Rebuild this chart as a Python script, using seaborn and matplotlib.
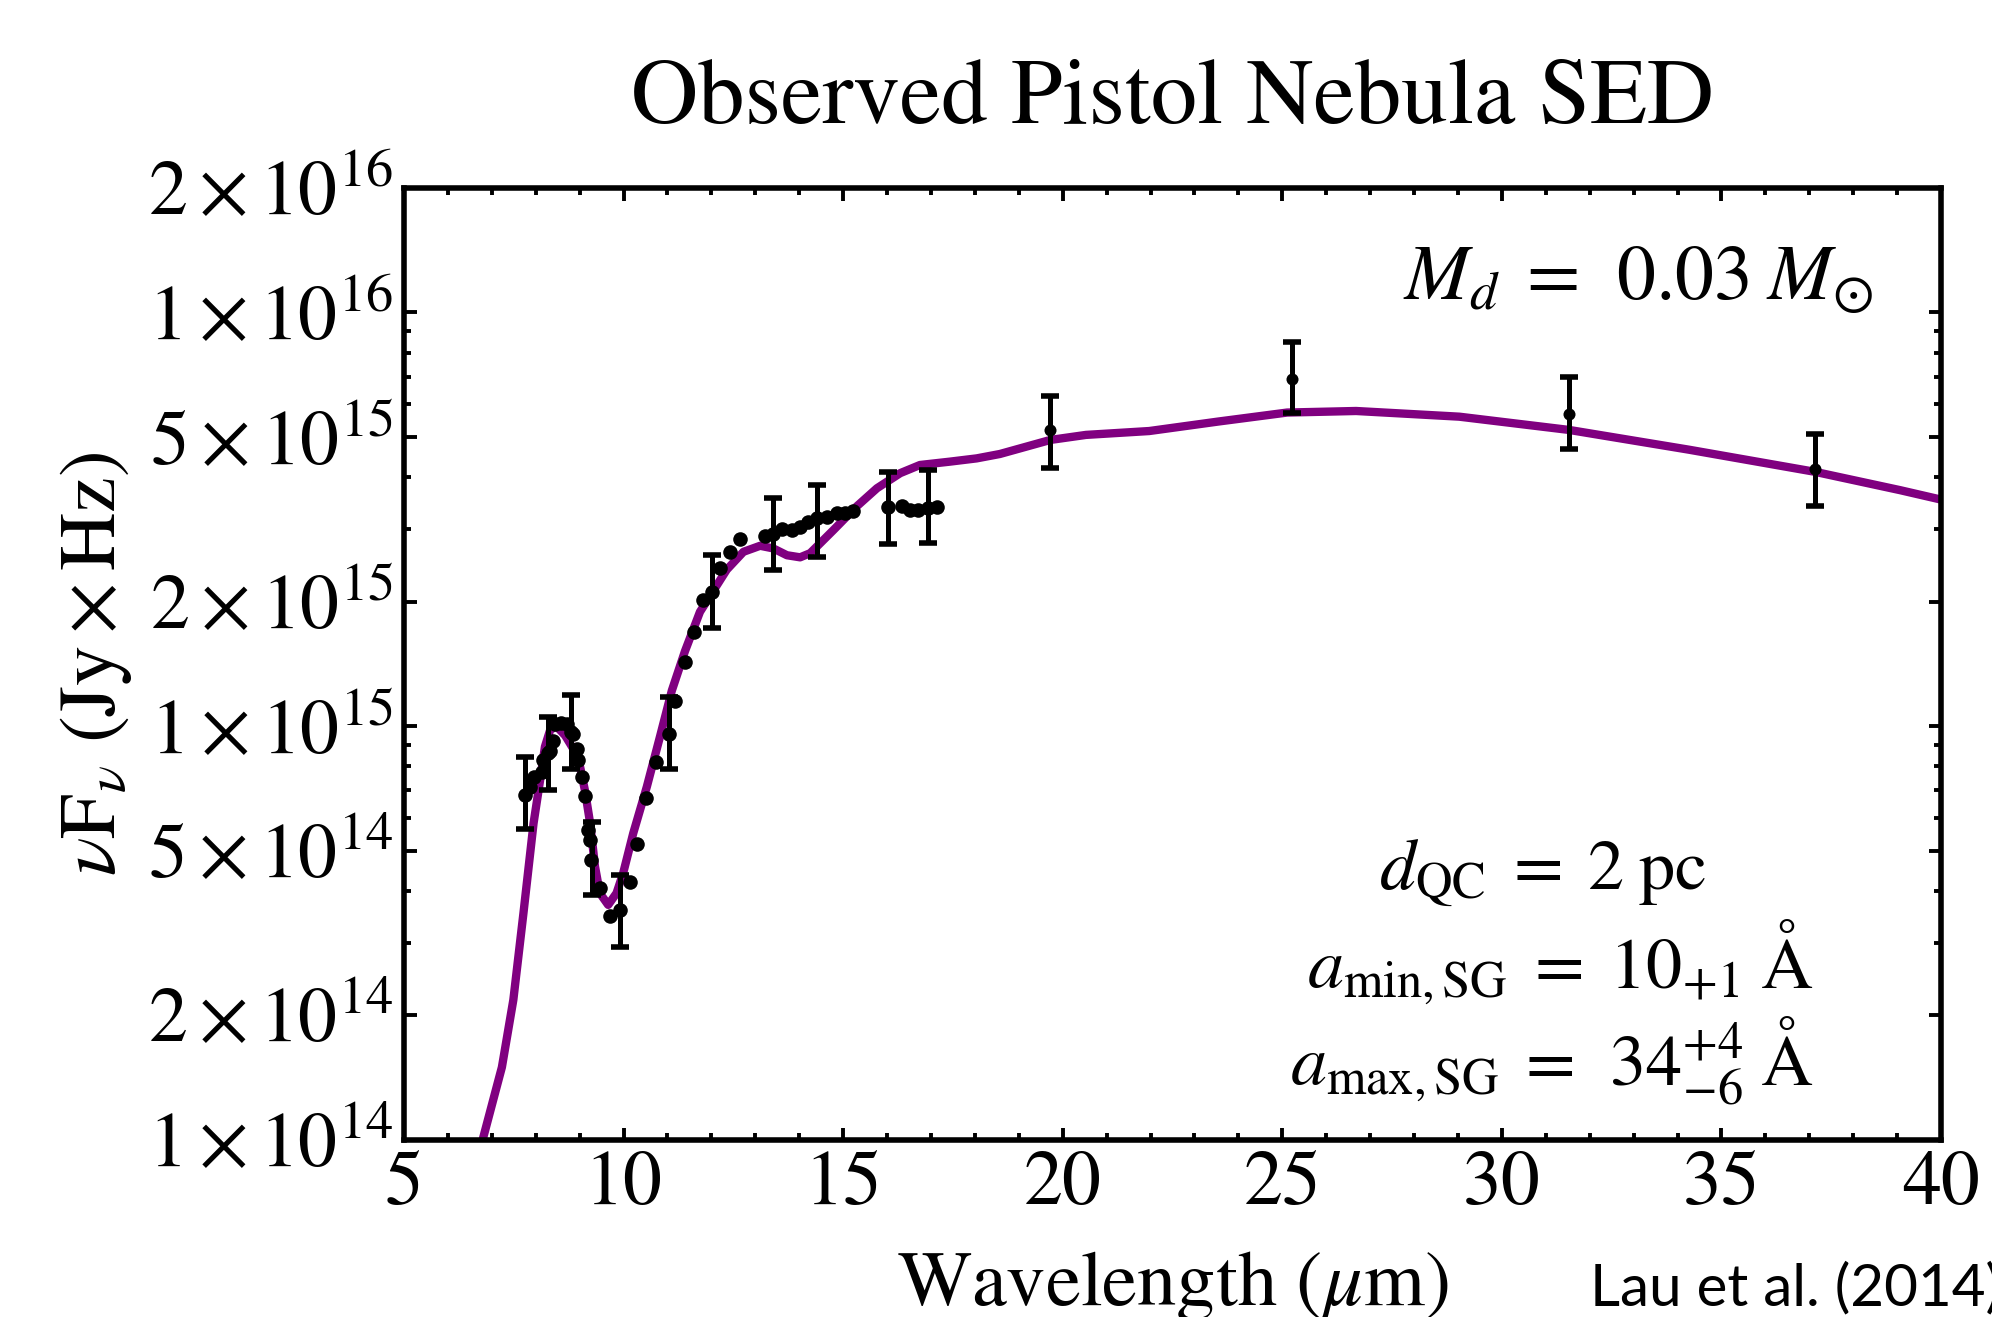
import numpy as np
import pandas as pd
import seaborn as sns
import matplotlib.pyplot as plt
from matplotlib.ticker import FixedLocator, LogLocator, NullFormatter, MultipleLocator

# model SED (purple curve), wavelength in micron, nuFnu in Jy x Hz
model_wl = [6.6, 6.79, 7.23, 7.49, 7.72, 7.95, 8.10, 8.21, 8.33, 8.47, 8.67, 8.86,
            9.01, 9.12, 9.24, 9.35, 9.46, 9.65, 9.84, 9.99, 10.22, 10.53, 10.83,
            11.10, 11.40, 11.74, 12.35, 12.73, 13.11, 13.41, 13.72, 14.02, 14.25,
            14.78, 15.31, 15.77, 16.30, 16.75, 17.43, 18.04, 18.57, 19.72, 20.53,
            21.97, 23.54, 25.11, 26.68, 29.03, 31.54, 34.26, 37.13, 39.07, 40.0]
model_flux = [7.0e13, 1.0e14, 1.5e14, 2.18e14, 3.53e14, 5.82e14, 7.41e14, 8.93e14,
              9.8e14, 1.0e15, 9.5e14, 8.8e14, 7.98e14, 7.0e14, 5.82e14, 4.58e14,
              3.95e14, 3.70e14, 3.95e14, 4.41e14, 5.51e14, 7.14e14, 9.44e14,
              1.22e15, 1.52e15, 1.89e15, 2.39e15, 2.64e15, 2.73e15, 2.69e15,
              2.59e15, 2.56e15, 2.62e15, 2.98e15, 3.40e15, 3.76e15, 4.09e15,
              4.28e15, 4.36e15, 4.44e15, 4.55e15, 4.92e15, 5.06e15, 5.17e15,
              5.45e15, 5.73e15, 5.78e15, 5.60e15, 5.20e15, 4.66e15, 4.12e15,
              3.72e15, 3.53e15]

# observed spectrum points
spec_wl = [7.76, 7.87, 7.95, 8.14, 8.17, 8.29, 8.33, 8.40, 8.45, 8.58, 8.71, 8.80,
           8.86, 8.93, 8.97, 9.05, 9.12, 9.20, 9.24, 9.27, 9.46, 9.69, 9.92, 10.15,
           10.30, 10.50, 10.73, 11.04, 11.17, 11.39, 11.60, 11.82, 12.01, 12.20,
           12.42, 12.65, 13.22, 13.41, 13.60, 13.83, 14.02, 14.21, 14.41, 14.63,
           14.85, 15.04, 15.22, 16.03, 16.33, 16.52, 16.71, 16.93, 17.13]
spec_flux = [6.82e14, 7.14e14, 7.55e14, 7.77e14, 8.3e14, 8.6e14, 8.7e14, 9.2e14,
             1.01e15, 1.02e15, 1.01e15, 9.7e14, 9.6e14, 8.8e14, 8.3e14, 7.55e14,
             6.8e14, 5.6e14, 5.3e14, 4.75e14, 4.06e14, 3.47e14, 3.6e14, 4.2e14,
             5.2e14, 6.7e14, 8.2e14, 9.6e14, 1.15e15, 1.43e15, 1.69e15, 2.02e15,
             2.11e15, 2.41e15, 2.63e15, 2.84e15, 2.89e15, 2.92e15, 3.0e15, 2.98e15,
             3.03e15, 3.12e15, 3.18e15, 3.21e15, 3.28e15, 3.28e15, 3.32e15, 3.38e15,
             3.41e15, 3.34e15, 3.33e15, 3.36e15, 3.38e15]

# error bars (spectrum + photometry)
err_wl = [7.76, 8.29, 8.80, 9.28, 9.92, 11.04, 12.01, 13.41, 14.41, 16.03, 16.93,
          19.72, 25.21, 31.54, 37.14]
err_flux = [6.82e14, 8.6e14, 9.7e14, 4.75e14, 3.6e14, 9.6e14, 2.11e15, 2.92e15,
            3.18e15, 3.38e15, 3.36e15, 5.20e15, 6.90e15, 5.67e15, 4.18e15]
err_hi = [8.43e14, 1.05e15, 1.19e15, 5.87e14, 4.37e14, 1.18e15, 2.59e15, 3.56e15,
          3.83e15, 4.12e15, 4.16e15, 6.29e15, 8.49e15, 6.97e15, 5.08e15]
err_lo = [5.64e14, 7.0e14, 7.9e14, 3.9e14, 2.93e14, 7.9e14, 1.73e15, 2.39e15,
          2.57e15, 2.75e15, 2.78e15, 4.22e15, 5.70e15, 4.68e15, 3.41e15]

# photometry points
phot_wl = [19.72, 25.21, 31.54, 37.14]
phot_flux = [5.20e15, 6.90e15, 5.67e15, 4.18e15]

ytick_vals = [1e14, 2e14, 5e14, 1e15, 2e15, 5e15, 1e16, 2e16]
ytick_labels = [r'$1\times10^{14}$', r'$2\times10^{14}$', r'$5\times10^{14}$',
                r'$1\times10^{15}$', r'$2\times10^{15}$', r'$5\times10^{15}$',
                r'$1\times10^{16}$', r'$2\times10^{16}$']

sns.set_style('ticks')
plt.rcParams['font.family'] = ['STIXGeneral', 'DejaVu Serif']
plt.rcParams['mathtext.fontset'] = 'stix'
plt.rcParams['text.color'] = 'black'
plt.rcParams['xtick.color'] = 'black'
plt.rcParams['ytick.color'] = 'black'

fig = plt.figure(figsize=(19.92, 13.17), dpi=100)
ax = fig.add_axes([0.2028, 0.1344, 0.7716, 0.7229])
ax.set_yscale('log')

model = pd.DataFrame({'wl': model_wl, 'flux': model_flux})
spec = pd.DataFrame({'wl': spec_wl, 'flux': spec_flux})
phot = pd.DataFrame({'wl': phot_wl, 'flux': phot_flux})

sns.lineplot(data=model, x='wl', y='flux', color='#800080', lw=6, sort=False,
             ax=ax, zorder=2)
yerr = [np.array(err_flux) - np.array(err_lo), np.array(err_hi) - np.array(err_flux)]
ax.errorbar(err_wl, err_flux, yerr=yerr, fmt='none', ecolor='black', elinewidth=3.6,
            capsize=6.5, capthick=4, zorder=3)
sns.scatterplot(data=spec, x='wl', y='flux', color='black', s=110, linewidth=0,
                ax=ax, zorder=4)
sns.scatterplot(data=phot, x='wl', y='flux', color='black', s=75, linewidth=0,
                ax=ax, zorder=4)

ax.set_xlim(5, 40)
ax.set_ylim(1e14, 2e16)
ax.xaxis.set_major_locator(MultipleLocator(5))
ax.xaxis.set_minor_locator(MultipleLocator(1))
ax.yaxis.set_major_locator(FixedLocator(ytick_vals))
ax.set_yticklabels(ytick_labels)
ax.yaxis.set_minor_locator(LogLocator(base=10, subs=[3, 4, 6, 7, 8, 9]))
ax.yaxis.set_minor_formatter(NullFormatter())
ax.set_xticks([5, 10, 15, 20, 25, 30, 35, 40])
ax.set_xticklabels(['5', '10', '15', '20', '25', '30', '35', '40'])
ax.tick_params(which='both', direction='in', top=True, right=True, width=2.8,
               labelsize=56, colors='black')
ax.tick_params(which='major', length=9, pad=8)
ax.tick_params(which='minor', length=5)
for sp in ax.spines.values():
    sp.set_linewidth(4)
    sp.set_color('black')
ax.set_xlabel('')
ax.set_ylabel('')

fig.text(0.5887, 0.9066, 'Observed Pistol Nebula SED', ha='center', va='baseline',
         fontsize=67)
fig.text(0.5887, 0.009, r'Wavelength ($\mu$m)', ha='center', va='baseline',
         fontsize=56.5)
fig.text(0.048, 0.4958, r'$\nu\mathrm{F}_{\nu}\ (\mathrm{Jy}\times\mathrm{Hz})$',
         rotation=90, ha='center', va='center', fontsize=58)
fig.text(0.798, 0.009, 'Lau et al. (2014)', ha='left', va='baseline',
         fontsize=42, family=['Lato', 'DejaVu Sans'])

ax.text(0.956, 0.884, r'$M_d\;=\;\,0.03\;M_{\odot}$', transform=ax.transAxes,
        ha='right', va='baseline', fontsize=56)
ax.text(0.741, 0.264, r'$d_{\mathrm{QC}}\;=\;2\;\mathrm{pc}$', transform=ax.transAxes,
        ha='center', va='baseline', fontsize=52)
ax.text(0.917, 0.160, r'$a_{\mathrm{min,SG}}\;=\;10_{+1}\;\mathrm{\AA}$',
        transform=ax.transAxes, ha='right', va='baseline', fontsize=52)
ax.text(0.917, 0.057, r'$a_{\mathrm{max,SG}}\;=\;\,34^{+4}_{-6}\;\mathrm{\AA}$',
        transform=ax.transAxes, ha='right', va='baseline', fontsize=52)

plt.savefig('out.png', dpi=100)
plt.close()
